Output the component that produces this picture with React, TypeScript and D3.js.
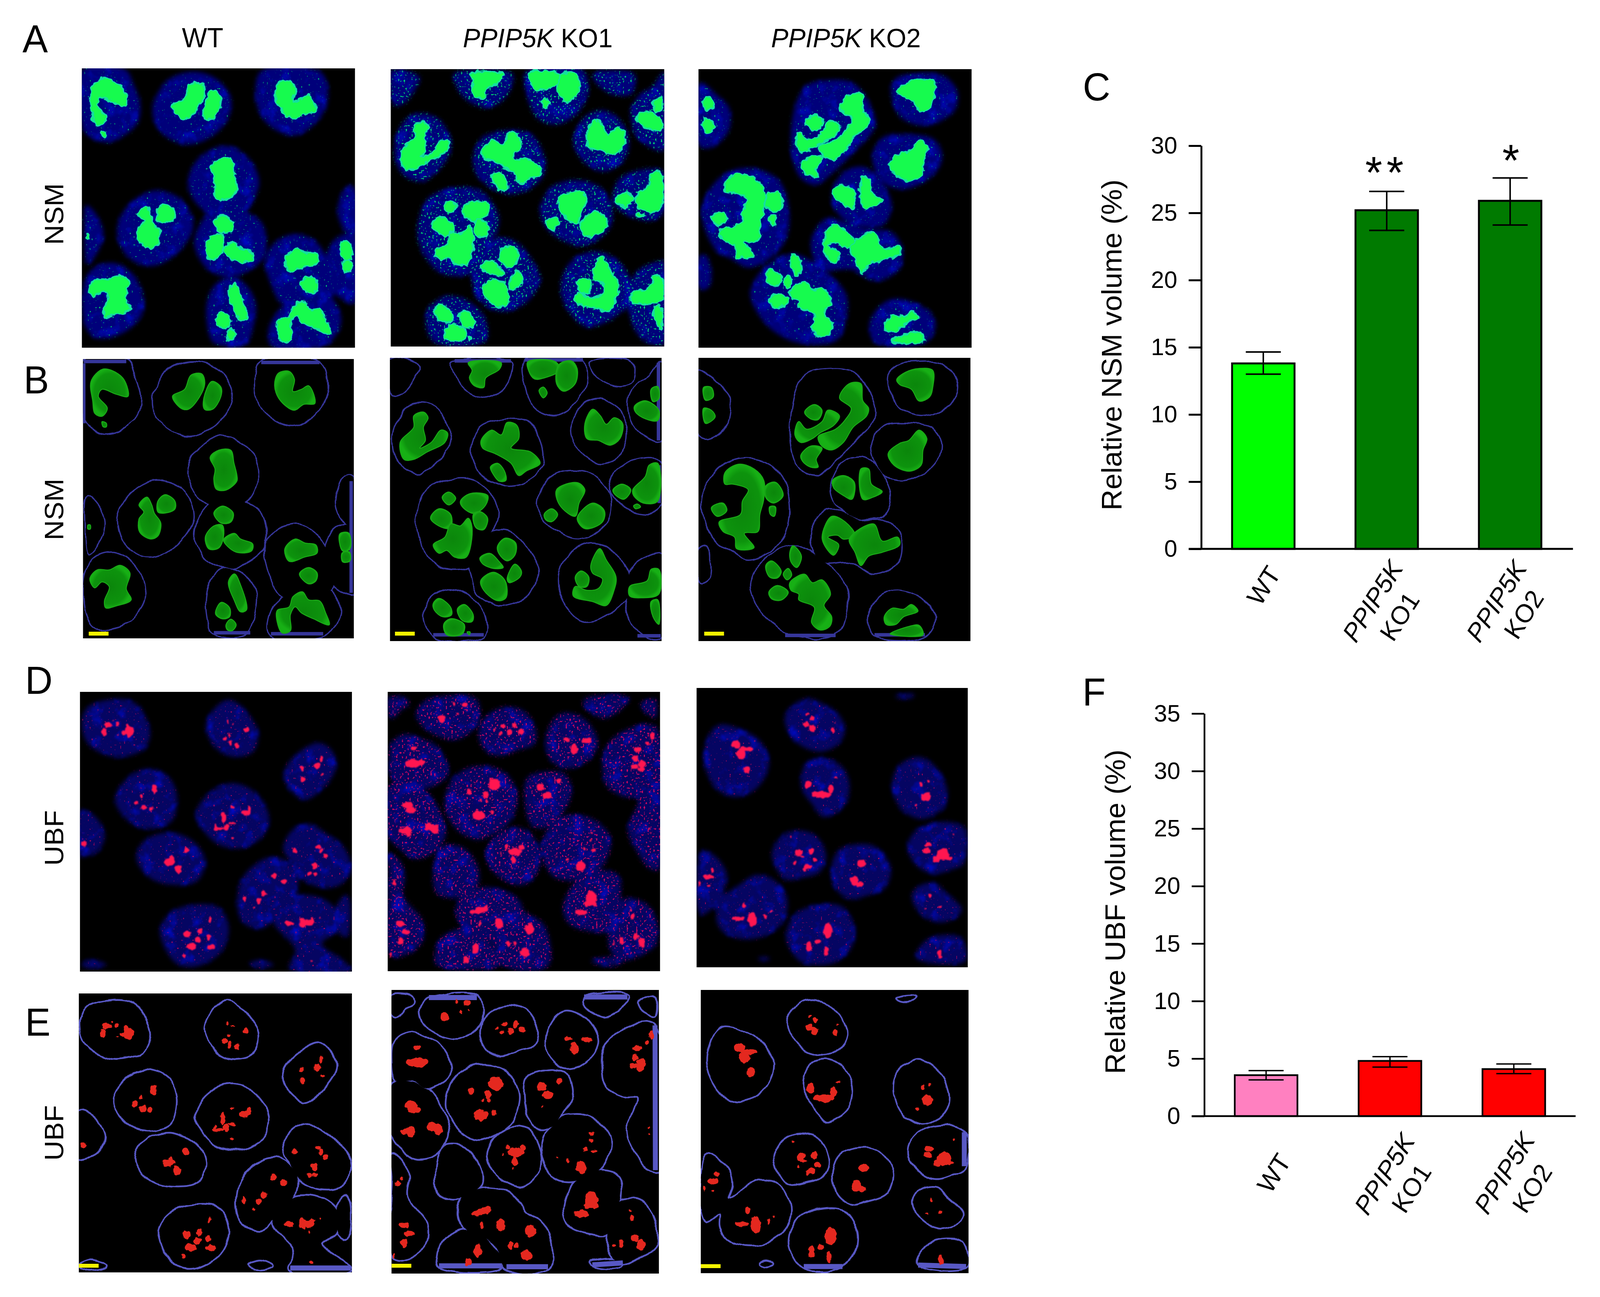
import * as React from "react";
import * as d3 from "d3";

// bar charts
const groups = ["WT", "KO1", "KO2"];
const nsmMeans = [13.8, 25.2, 25.9];
const nsmLow = [13.0, 23.7, 24.1];
const nsmHigh = [14.65, 26.6, 27.6];
const ubfMeans = [3.56, 4.8, 4.09];
const ubfLow = [3.15, 4.26, 3.69];
const ubfHigh = [3.96, 5.17, 4.53];
const nsmTicks = [0, 5, 10, 15, 20, 25, 30];
const ubfTicks = [0, 5, 10, 15, 20, 25, 30, 35];
const columnTitles = ["WT", "PPIP5K KO1", "PPIP5K KO2"];

const nsmWtNuclei = [
  [345,45,520,45,550,110,580,220,570,310,520,370,450,410,380,385,350,350],
  [640,190,700,90,800,55,890,90,945,170,950,250,910,340,840,400,770,420,690,385,640,310,630,250],
  [1075,50,1315,55,1345,140,1335,240,1280,330,1210,375,1130,345,1075,280,1050,170],
  [775,600,810,500,900,430,960,435,1030,500,1065,600,1050,680,1015,750,930,790,850,760,790,680],
  [800,900,855,770,930,745,1015,760,1075,810,1095,900,1085,985,1020,1055,940,1085,860,1050,815,975],
  [360,725,395,760,430,860,410,950,365,1020,352,870],
  [485,850,520,740,590,670,650,650,730,680,785,760,795,840,750,940,660,1020,590,1025,520,970],
  [355,1100,400,1030,480,1015,550,1070,590,1170,590,1260,540,1340,450,1390,385,1380,350,1300],
  [850,1230,880,1130,930,1090,1000,1110,1050,1210,1045,1310,1010,1420,900,1425,870,1400],
  [1090,1000,1130,910,1210,868,1290,900,1340,985,1375,1150,1360,1190,1295,1220,1165,1225,1110,1110],
  [1105,1340,1165,1225,1240,1190,1360,1190,1400,1300,1370,1390,1330,1430,1115,1430],
  [1340,975,1380,890,1456,870,1456,1215,1410,1200,1365,1150],
  [1385,740,1410,650,1435,625,1456,640,1456,870,1420,860,1390,790],
];
const nsmWtBlobs = [
  [375,150,420,90,460,95,510,140,527,225,480,215,420,190,405,225,442,285,420,325,390,310,382,250],
  [420,352,438,360,438,378,425,378],
  [710,225,760,190,785,120,830,112,843,160,815,240,775,290,745,285],
  [838,240,872,150,910,180,908,230,875,290,842,290],
  [1130,170,1145,110,1190,100,1212,140,1205,200,1240,190,1270,172,1295,230,1295,262,1250,265,1210,295,1150,240],
  [865,530,900,495,950,495,963,560,975,620,975,650,930,695,890,690,880,640,885,590],
  [880,810,915,775,960,810,950,855,910,860],
  [845,930,880,875,915,870,920,930,900,985,860,990],
  [920,945,965,912,990,940,1040,965,1035,1000,970,1005],
  [572,770,605,730,625,770,635,810,662,860,650,925,620,940,575,905,572,840,592,805],
  [650,750,680,718,720,750,720,790,680,810,650,805],
  [370,1140,400,1095,450,1095,495,1072,535,1110,520,1190,540,1245,480,1275,435,1285,430,1250,450,1180,420,1155,390,1185],
  [940,1155,965,1115,990,1170,1015,1295,990,1305,965,1250],
  [887,1315,910,1258,945,1285,945,1330,915,1340],
  [930,1370,950,1342,972,1370,955,1400,935,1395],
  [1172,990,1215,940,1255,960,1300,970,1305,1010,1255,1030,1190,1052],
  [1232,1115,1270,1083,1305,1110,1300,1150,1270,1165],
  [1140,1300,1190,1280,1205,1230,1245,1205,1270,1245,1315,1250,1340,1310,1355,1370,1290,1340,1240,1310,1215,1280,1195,1320,1195,1400,1160,1410],
  [1398,915,1435,910,1440,990,1410,1000],
  [1408,1010,1438,1005,1440,1050,1410,1055],
  [362,870,372,870,372,890,362,890],
];
const nsmWtRims = [
  [345,50,520,50],[345,60,345,360],[1075,55,1315,55],[880,1410,1030,1410],[1115,1415,1330,1415],[1445,650,1445,1210],
];

const nsmKo1Nuclei = [
  [25,45,60,40,98,80,90,130,60,215,35,232,25,180],
  [185,60,240,40,335,60,330,140,305,210,265,242,215,195,190,120],
  [370,50,515,40,525,180,490,290,445,332,400,300,372,180],
  [540,60,600,40,645,60,640,165,590,170,545,100],
  [637,260,660,170,690,132,722,50,722,470,690,460,650,390],
  [35,430,60,310,100,272,150,310,178,430,170,510,130,610,100,640,60,610,38,540],
  [235,500,260,400,340,362,385,390,415,500,415,600,385,670,330,708,270,660,240,590],
  [490,420,520,290,565,255,605,300,632,420,620,520,570,585,520,540],
  [590,720,610,620,690,570,722,590,722,800,690,850,640,830,600,780],
  [405,800,430,680,485,632,550,660,587,760,585,880,540,970,500,985,430,910],
  [92,920,120,730,200,670,260,700,300,830,290,930,230,1130,160,1140,120,1070],
  [228,1080,290,950,340,960,400,1120,405,1180,370,1290,310,1340,250,1280,232,1180],
  [458,1200,480,1080,540,1015,600,1060,640,1190,630,1300,570,1400,520,1420,470,1310],
  [632,1260,650,1130,710,1068,722,1070,722,1510,680,1505,645,1430],
  [113,1370,135,1290,180,1255,240,1310,268,1400,265,1500,135,1505],
];
const nsmKo1Blobs = [
  [50,480,85,400,85,340,110,320,122,350,110,400,115,470,100,510,130,480,155,415,172,430,165,480,120,530,85,570,60,570],
  [225,60,310,60,305,95,270,140,265,190,240,180,228,140,235,100],
  [378,55,450,55,460,100,420,140,395,145,380,100],
  [458,70,490,50,505,90,500,170,470,210,452,170],
  [407,205,418,188,428,220,418,245],
  [695,200,712,185,715,250,700,265],
  [652,290,680,260,715,310,712,365,680,355,655,320],
  [258,470,285,415,310,440,325,375,350,390,355,460,335,510,385,530,410,590,375,630,355,655,335,590,295,540,262,510],
  [282,610,300,590,318,630,322,680,305,685,290,650],
  [525,380,545,305,565,340,580,385,600,350,622,380,615,460,590,495,560,470,530,460],
  [597,730,620,700,643,730,625,780,600,750],
  [648,730,680,660,690,600,712,590,712,790,675,800,650,760],
  [650,815,660,805,668,820,655,830],
  [452,730,505,692,525,730,510,800,500,870,460,810],
  [505,880,545,800,575,840,570,900,525,935],
  [420,860,440,830,455,860,440,898,425,890],
  [158,770,175,742,193,775,175,810],
  [205,790,230,750,275,760,270,810,240,855,210,820],
  [128,880,150,830,180,860,180,930,160,930],
  [238,860,255,845,275,880,265,940,245,930],
  [135,1020,165,980,180,910,205,920,225,880,235,930,220,1085,190,1085,170,1050,150,1065],
  [300,1030,320,985,347,1010,345,1075,325,1105,305,1070],
  [255,1090,280,1065,305,1110,315,1140,290,1145,262,1120],
  [325,1200,345,1122,362,1160,358,1190,330,1220],
  [257,1210,290,1165,320,1210,322,1300,300,1315,265,1260],
  [500,1190,515,1158,535,1190,530,1240,510,1240],
  [540,1130,563,1040,580,1100,605,1190,600,1260,580,1340,545,1320,495,1290,500,1240,530,1260,560,1250,570,1200,545,1170],
  [640,1240,685,1210,695,1150,715,1150,715,1280,670,1300,640,1290],
  [695,1320,712,1310,715,1440,700,1400],
  [135,1330,150,1303,180,1350,182,1390,160,1400,138,1365],
  [197,1360,215,1335,238,1390,235,1425,210,1420],
  [162,1440,180,1410,215,1440,210,1490,170,1495],
  [222,1480,230,1480,228,1495],
];
const nsmKo1Rims = [
  [190,50,335,50],[370,45,520,45],[135,1495,265,1495],[714,60,714,470],[716,600,716,800],[660,1500,720,1500],
];

const nsmKo2Nuclei = [
  [1310,150,1325,80,1380,58,1445,70,1480,150,1475,250,1430,320,1390,338,1335,290],
  [1055,480,1065,230,1095,120,1150,92,1215,110,1260,240,1270,340,1220,470,1150,610,1120,655,1080,620],
  [817,110,830,110,860,165,895,240,897,350,870,430,835,460,817,440],
  [1262,500,1290,400,1340,383,1420,410,1442,500,1420,600,1345,678,1290,640],
  [1160,690,1190,585,1240,558,1280,620,1312,760,1290,870,1210,865,1165,780],
  [825,800,860,640,915,570,985,580,1030,650,1050,820,1040,950,1000,1050,945,1098,900,1050,860,1000],
  [1105,960,1145,835,1200,860,1250,895,1310,905,1340,1000,1330,1110,1270,1170,1210,1110,1130,1105],
  [950,1230,985,1100,1055,1025,1120,1080,1195,1240,1195,1380,1170,1490,1080,1505,1010,1440,965,1330],
  [1255,1400,1290,1290,1330,1265,1400,1320,1425,1400,1400,1500,1270,1500],
  [817,1040,835,1030,850,1120,845,1200,825,1220,817,1200],
];
const nsmKo2Blobs = [
  [1327,150,1350,110,1385,90,1420,100,1420,190,1412,240,1385,262,1365,200,1335,175],
  [830,190,850,190,855,240,835,258],
  [830,300,850,310,860,345,835,380],
  [1090,320,1115,280,1135,310,1125,360,1105,355],
  [1065,440,1075,370,1095,410,1135,370,1150,310,1180,340,1165,390,1130,430,1110,460,1080,480],
  [1180,245,1205,170,1235,170,1240,260,1255,300,1250,340,1215,400,1190,480,1160,520,1135,500,1125,450,1170,410,1195,360,1210,300],
  [1080,550,1105,500,1135,510,1120,570,1125,610,1105,610,1085,580],
  [1358,470,1385,415,1405,460,1395,520,1390,600,1360,632,1320,600,1305,540,1335,485],
  [1162,680,1190,655,1218,690,1212,780,1190,760,1165,720],
  [1235,620,1255,620,1262,700,1290,740,1265,770,1240,780],
  [885,640,920,595,960,620,985,680,985,780,975,860,970,950,935,960,960,1035,915,1040,910,980,880,950,870,900,925,860,930,790,945,730,905,700,885,700],
  [990,710,1015,690,1035,760,1010,800,990,770],
  [1000,820,1015,820,1012,870,1002,860],
  [850,825,880,800,890,840,865,870],
  [1135,980,1160,870,1195,900,1220,970,1190,990,1175,970,1150,980,1178,1020,1165,1075,1150,1050],
  [1205,990,1268,910,1290,1000,1330,980,1335,1020,1290,1060,1255,1080,1235,1130,1220,1060],
  [1052,1060,1060,1025,1082,1080,1070,1140,1055,1110],
  [990,1130,1005,1105,1030,1160,1020,1195,1000,1190],
  [1035,1175,1048,1145,1057,1180,1045,1205],
  [998,1270,1020,1235,1048,1270,1030,1312,1005,1305],
  [1052,1220,1090,1175,1110,1220,1135,1205,1157,1280,1140,1340,1160,1400,1155,1450,1130,1470,1108,1430,1115,1350,1075,1310,1075,1280,1055,1260],
  [1295,1400,1315,1355,1345,1360,1365,1335,1382,1370,1345,1400,1325,1440,1300,1440],
  [1310,1490,1360,1450,1385,1445,1395,1495],
];
const nsmKo2Rims = [[1040,1498,1170,1498],[1270,1495,1400,1495]];

const ubfWtNuclei = [
  [335,210,370,150,510,122,570,160,615,290,590,370,500,410,420,395,350,330],
  [845,260,880,170,935,125,985,150,1050,250,1062,300,1040,385,960,410,890,370],
  [1167,500,1200,420,1305,340,1360,370,1385,450,1350,540,1255,625,1190,570],
  [470,630,510,530,600,470,690,510,725,600,705,730,620,770,540,745],
  [805,690,860,590,950,542,1040,580,1105,700,1085,800,1000,865,900,850,830,770],
  [325,680,380,700,428,800,400,880,340,910,325,910],
  [558,920,590,830,700,788,800,840,842,930,810,1030,720,1050,620,1020],
  [1165,870,1200,780,1270,745,1350,800,1420,870,1445,970,1400,1050,1310,1060,1225,1005,1190,925],
  [975,1150,1000,1010,1100,915,1170,925,1225,1010,1215,1100,1125,1230,1070,1270,1000,1240],
  [655,1280,700,1190,790,1150,900,1165,940,1270,905,1390,800,1460,720,1440],
  [1125,1230,1215,1110,1320,1115,1385,1180,1385,1280,1325,1345,1415,1430,1445,1475,1190,1470,1215,1375],
  [1025,1445,1070,1425,1125,1450,1070,1468],
  [330,1450,370,1425,435,1450,370,1470],
  [1385,1160,1425,1100,1440,1130,1430,1310,1395,1290],
];
const ubfWtSpots = [
  [440,250,20,15],[425,285,13,22],[480,245,8,10],[462,228,4,5],[530,285,22,30],[520,265,8,25],[482,303,5,4],[505,290,10,12],
  [935,235,6,12],[958,248,5,5],[1013,273,12,15],[943,298,6,8],[925,322,12,12],[945,340,8,18],[975,352,10,17],
  [1322,420,7,18],[1305,455,14,20],[1242,466,8,16],[1245,522,11,18],[1327,498,6,6],
  [632,570,13,28],[580,607,7,10],[555,640,12,15],[588,663,16,17],[618,670,12,13],
  [918,712,10,30],[1010,690,24,17],[1025,675,10,20],[955,662,8,7],[955,740,18,8],[930,760,14,20],[900,770,25,8],[885,755,6,15],[955,818,6,8],
  [343,845,14,15],
  [765,878,14,20],[695,935,28,20],[705,920,10,18],[730,972,18,22],
  [1213,877,11,15],[1310,860,12,12],[1322,880,9,14],[1340,905,10,12],[1295,955,15,18],[1275,995,12,12],[1298,995,10,10],
  [1127,1007,13,17],[1167,1035,15,16],[1085,1095,14,18],[1065,1130,14,18],[1005,1120,9,20],[1044,1165,6,6],
  [861,1222,8,18],[768,1295,18,20],[822,1283,10,18],[813,1325,14,17],[785,1358,24,20],[858,1315,9,18],[868,1362,20,17],[755,1405,9,12],
  [1190,1242,20,14],[1245,1240,16,28],[1270,1240,25,17],[1285,1230,10,20],[1318,1216,4,5],[1274,1282,4,7],[1282,1432,6,7],
];
const ubfWtRims = [[1195,1462,1445,1462]];

const ubfKo1Nuclei = [
  [190,140,240,75,500,60,530,130,510,210,420,280,330,275,240,230,205,190],
  [520,260,550,170,650,112,760,130,825,230,815,310,730,340,630,372,555,340],
  [875,310,910,190,980,140,1090,180,1155,300,1110,390,990,440,910,400],
  [1075,90,1095,60,1320,60,1280,120,1190,170,1120,140],
  [38,60,140,65,150,100,110,125,65,170,38,130],
  [1380,95,1460,68,1460,170],
  [1180,450,1190,340,1280,245,1460,215,1480,980,1430,975,1360,880,1315,770,1370,600,1290,590,1200,530],
  [45,400,60,300,130,255,235,285,300,320,355,420,345,490,240,545,150,510,70,510],
  [38,540,90,510,230,550,330,700,345,800,310,860,250,910,170,920,90,860,38,800],
  [340,640,380,500,480,432,620,440,695,500,728,600,690,720,600,790,510,820,400,760],
  [765,600,780,490,880,455,980,470,1015,570,950,700,860,760,800,740],
  [560,900,600,810,700,755,790,780,840,870,840,980,770,1060,680,1050,590,980],
  [855,880,890,760,960,700,1090,695,1200,770,1225,840,1165,980,1050,1035,920,1020],
  [280,1000,320,860,430,860,510,950,525,1040,510,1070,420,1130,300,1110],
  [970,1180,1040,1040,1150,985,1260,1010,1275,1130,1220,1310,1100,1310,1000,1270],
  [1210,1330,1270,1150,1360,1140,1450,1210,1465,1380,1380,1440,1280,1470,1225,1420],
  [400,1220,430,1120,510,1080,630,1085,740,1150,760,1200,870,1280,890,1500,660,1500,590,1370,440,1290],
  [290,1430,320,1350,440,1295,560,1350,635,1490,295,1490],
  [45,1010,40,895,100,930,130,1020,120,1120,225,1260,220,1370,130,1440,50,1440],
  [1120,1470,1200,1450,1290,1460,1270,1490,1150,1490],
];
const ubfKo1Spots = [
  [445,96,20,14],[390,92,9,10],[413,145,8,8],[325,170,22,25],[457,132,4,4],
  [650,212,18,12],[685,245,15,22],[710,210,15,18],[745,240,18,18],[605,230,8,9],[638,252,12,10],
  [990,285,22,14],[1095,290,30,18],[1028,335,22,30],
  [1445,265,16,24],[1417,306,12,12],[1368,337,25,16],[1355,385,18,20],[1390,415,25,25],[1350,430,25,15],[1385,445,20,15],
  [175,332,20,12],[175,410,55,25],[210,408,28,18],
  [145,635,35,20],[160,660,35,20],[130,775,42,18],[145,775,22,32],[255,745,22,22],[270,755,42,22],[290,772,25,20],
  [470,563,17,20],[605,525,40,35],[600,500,30,12],[560,580,18,22],[565,612,10,12],[530,612,7,9],[520,690,38,30],[593,677,11,15],
  [850,540,25,24],[885,582,30,22],[947,507,15,17],[850,646,4,4],
  [670,858,12,15],[715,885,45,25],[750,860,15,15],[705,930,16,25],[640,895,5,7],[700,972,5,5],
  [1120,785,15,8],[1115,823,11,8],[1087,868,10,12],[1132,880,16,7],[1065,965,28,35],[935,912,5,5],[993,927,8,12],
  [1120,1135,35,45],[1095,1165,15,20],[1065,1210,38,20],[1140,1170,15,15],
  [1333,1193,7,7],[1340,1233,12,17],[1357,1340,20,22],[1388,1375,22,30],[1281,1365,12,25],[1242,1380,9,9],
  [500,1208,30,14],[530,1195,30,18],[560,1190,16,20],[527,1270,9,17],[630,1270,25,33],[790,1300,30,32],[680,1378,14,18],[713,1378,13,12],[768,1428,30,28],
  [505,1405,20,35],[453,1465,20,22],
  [105,1272,27,18],[135,1315,28,15],[105,1365,17,25],[92,1025,9,9],[72,1052,14,14],[52,1437,6,15],
  [1430,760,6,6],[1435,785,5,5],
];
const ubfKo1Rims = [
  [1464,215,1466,980],[295,1485,635,1485],[660,1490,885,1490],[1080,65,1315,65],[240,68,500,68],[1125,1480,1290,1470],
];

const ubfKo2Nuclei = [
  [535,180,590,110,665,85,760,125,830,180,855,260,820,330,725,370,610,330,550,260],
  [100,420,130,280,185,225,300,250,400,310,450,420,420,520,350,590,260,612,170,570],
  [620,510,650,430,735,402,840,450,880,550,850,660,740,720,680,650,630,580],
  [1108,560,1140,450,1240,397,1320,430,1400,560,1390,660,1320,715,1260,730,1160,680],
  [1190,880,1240,790,1380,745,1495,780,1490,970,1430,1000,1330,1025,1240,980],
  [465,910,520,820,600,792,700,820,755,930,720,1015,630,1045,540,1055,480,980],
  [782,1010,820,900,920,865,1020,880,1100,990,1070,1100,960,1145,890,1160,810,1110],
  [65,1000,90,900,150,920,215,1000,225,1060,205,1130,280,1090,380,1030,480,1060,545,1150,530,1270,440,1350,320,1375,210,1340,170,1280,165,1205,90,1245,65,1200],
  [1215,1130,1260,1085,1340,1075,1400,1130,1480,1210,1460,1250,1370,1285,1290,1260,1225,1190],
  [540,1360,590,1240,720,1190,840,1200,905,1310,890,1420,800,1500,630,1500,570,1440],
  [1235,1470,1290,1380,1400,1350,1480,1370,1500,1490,1300,1500],
  [1125,72,1170,60,1225,62,1220,78,1150,85],
  [390,1480,425,1468,455,1480,420,1492],
];
const ubfKo2Spots = [
  [655,168,10,8],[682,190,12,14],[650,225,20,18],[680,245,20,22],[802,210,5,5],[790,255,12,18],
  [272,332,28,24],[325,355,45,14],[300,385,30,28],[332,465,22,25],
  [657,547,20,26],[730,600,60,20],[780,570,18,28],[807,512,9,7],
  [1265,543,10,14],[1304,530,9,8],[1290,610,30,28],[1237,656,7,7],
  [1300,868,22,15],[1293,900,25,16],[1380,920,40,35],[1345,945,22,18],[1410,942,25,10],[1435,815,5,6],
  [565,828,6,6],[605,910,22,22],[620,932,22,6],[677,902,18,20],[695,952,15,15],[655,985,25,16],[588,965,8,9],[640,1000,10,12],
  [945,968,30,22],[905,1062,25,32],[935,1082,22,18],
  [148,1003,12,14],[125,1040,32,16],[126,1088,10,7],[80,1078,8,15],
  [315,1193,12,18],[360,1268,28,45],[285,1265,38,14],[430,1254,7,17],[459,1226,5,7],
  [765,1330,30,45],[762,1300,14,20],[712,1387,18,14],[662,1415,18,32],[755,1438,16,30],
  [1310,1140,8,14],[1285,1208,8,5],[1363,1201,9,8],
  [1362,1455,14,28],
];
const ubfKo2Rims = [[620,1490,830,1490],[1240,1482,1500,1490],[1490,780,1490,960]];

const FONT = '"Liberation Sans", Arial, sans-serif';

type Field = {
  frameX: number[];
  frameY: number[];
  nuclei: number[][];
  blobs?: number[][];
  spots?: number[][];
  rims: number[][];
};

const nsmWt: Field = { frameX: [342, 1456], frameY: [38, 1438], nuclei: nsmWtNuclei, blobs: nsmWtBlobs, rims: nsmWtRims };
const nsmKo1: Field = { frameX: [24, 722], frameY: [34, 1528], nuclei: nsmKo1Nuclei, blobs: nsmKo1Blobs, rims: nsmKo1Rims };
const nsmKo2: Field = { frameX: [817, 1517], frameY: [34, 1528], nuclei: nsmKo2Nuclei, blobs: nsmKo2Blobs, rims: nsmKo2Rims };
const ubfWt: Field = { frameX: [325, 1449], frameY: [85, 1484], nuclei: ubfWtNuclei, spots: ubfWtSpots, rims: ubfWtRims };
const ubfKo1: Field = { frameX: [38, 1485], frameY: [28, 1526], nuclei: ubfKo1Nuclei, spots: ubfKo1Spots, rims: ubfKo1Rims };
const ubfKo2: Field = { frameX: [62, 1513], frameY: [28, 1525], nuclei: ubfKo2Nuclei, spots: ubfKo2Spots, rims: ubfKo2Rims };

// x0, x1, y0, y1 of each picture, plus where its scale bar starts
const panels: { box: number[]; field: Field; mode: string; speck?: string; bar?: number[] }[] = [
  { box: [215, 932, 175, 890], field: nsmWt, mode: "confocal", speck: "nucA" },
  { box: [1026, 1744, 177, 887], field: nsmKo1, mode: "confocal", speck: "nucAko" },
  { box: [1834, 2551, 177, 890], field: nsmKo2, mode: "confocal", speck: "nucA" },
  { box: [218, 929, 919, 1634], field: nsmWt, mode: "render", bar: [233, 1617] },
  { box: [1024, 1737, 916, 1641], field: nsmKo1, mode: "render", bar: [1037, 1617] },
  { box: [1834, 2548, 916, 1641], field: nsmKo2, mode: "render", bar: [1849, 1617] },
  { box: [210, 924, 1771, 2487], field: ubfWt, mode: "confocal", speck: "nucD" },
  { box: [1018, 1733, 1771, 2486], field: ubfKo1, mode: "confocal", speck: "nucDko" },
  { box: [1829, 2541, 1761, 2476], field: ubfKo2, mode: "confocal", speck: "nucD" },
  { box: [207, 924, 2543, 3257], field: ubfWt, mode: "render", bar: [207, 3235] },
  { box: [1028, 1730, 2534, 3260], field: ubfKo1, mode: "render", bar: [1028, 3235] },
  { box: [1840, 2543, 2534, 3259], field: ubfKo2, mode: "render", bar: [1840, 3236] },
];

function toPoints(flat: number[]) {
  const pts: [number, number][] = [];
  for (let i = 0; i < flat.length; i += 2) pts.push([flat[i], flat[i + 1]]);
  return pts;
}

function addNucleusFilter(defs: any, id: string, rgb: number[], c: number) {
  const f = defs.append("filter").attr("id", id).attr("color-interpolation-filters", "sRGB");
  f.append("feGaussianBlur").attr("in", "SourceGraphic").attr("stdDeviation", 6).attr("result", "base");
  f.append("feTurbulence").attr("type", "fractalNoise").attr("baseFrequency", 0.03).attr("numOctaves", 3).attr("seed", 4).attr("result", "t");
  f.append("feColorMatrix").attr("in", "t").attr("values", "0 0 0 0 0 0 0 0 0 0.04 0 0 0 0 0.75 2.4 0 0 0 -1.2").attr("result", "blot");
  f.append("feComposite").attr("in", "blot").attr("in2", "base").attr("operator", "in").attr("result", "blotIn");
  f.append("feTurbulence").attr("type", "fractalNoise").attr("baseFrequency", 0.2).attr("numOctaves", 1).attr("seed", 9).attr("result", "s");
  f.append("feColorMatrix").attr("in", "s")
    .attr("values", `0 0 0 0 ${rgb[0]} 0 0 0 0 ${rgb[1]} 0 0 0 0 ${rgb[2]} 12 0 0 0 ${c}`).attr("result", "sp");
  f.append("feComposite").attr("in", "sp").attr("in2", "base").attr("operator", "in").attr("result", "spIn");
  const m = f.append("feMerge");
  m.append("feMergeNode").attr("in", "base");
  m.append("feMergeNode").attr("in", "blotIn");
  m.append("feMergeNode").attr("in", "spIn");
}

function addRoughFilter(defs: any, id: string, freq: number, scale: number, blur: number) {
  const f = defs.append("filter").attr("id", id).attr("color-interpolation-filters", "sRGB");
  f.append("feTurbulence").attr("type", "fractalNoise").attr("baseFrequency", freq).attr("numOctaves", 2).attr("seed", 3).attr("result", "n");
  f.append("feDisplacementMap").attr("in", "SourceGraphic").attr("in2", "n").attr("scale", scale)
    .attr("xChannelSelector", "R").attr("yChannelSelector", "G").attr("result", "d");
  if (blur > 0) f.append("feGaussianBlur").attr("in", "d").attr("stdDeviation", blur);
}

function drawPanel(svg: any, p: (typeof panels)[number], i: number) {
  const [x0, x1, y0, y1] = p.box;
  const fx = d3.scaleLinear().domain(p.field.frameX).range([x0, x1]);
  const fy = d3.scaleLinear().domain(p.field.frameY).range([y0, y1]);
  const outline = d3
    .line<[number, number]>()
    .x((d) => fx(d[0]))
    .y((d) => fy(d[1]))
    .curve(d3.curveCatmullRomClosed.alpha(0.5));

  const clipId = `clip${i}`;
  svg.select("defs").append("clipPath").attr("id", clipId)
    .append("rect").attr("x", x0).attr("y", y0).attr("width", x1 - x0).attr("height", y1 - y0);
  svg.append("rect").attr("x", x0).attr("y", y0).attr("width", x1 - x0).attr("height", y1 - y0).attr("fill", "#000");

  const g = svg.append("g").attr("clip-path", `url(#${clipId})`);
  const nuclei = p.field.nuclei.map(toPoints);
  const blobs = (p.field.blobs || []).map(toPoints);
  const spots = p.field.spots || [];
  const isNsm = blobs.length > 0;

  if (p.mode === "confocal") {
    g.append("g").attr("filter", `url(#${p.speck})`)
      .selectAll("path").data(nuclei).join("path")
      .attr("d", (d: any) => outline(d))
      .attr("fill", isNsm ? "#00007a" : "#050562");
    if (isNsm) {
      g.append("g").attr("filter", "url(#blobRough)")
        .selectAll("path").data(blobs).join("path")
        .attr("d", (d: any) => outline(d))
        .attr("fill", "#16fb4e")
        .attr("stroke", "#14e0a0")
        .attr("stroke-width", 4);
    }
    g.append("g").attr("filter", "url(#spotSoft)")
      .selectAll("ellipse").data(spots).join("ellipse")
      .attr("cx", (d: number[]) => fx(d[0]))
      .attr("cy", (d: number[]) => fy(d[1]))
      .attr("rx", (d: number[]) => Math.abs(fx(d[2]) - fx(0)) * 0.85)
      .attr("ry", (d: number[]) => Math.abs(fy(d[3]) - fy(0)) * 0.85)
      .attr("fill", "#ff1650");
  } else {
    // stroke everything, then black fill on top, so only the outer outline of touching nuclei stays
    const rimColor = isNsm ? "#36369a" : "#5858c4";
    const wobble = g.append("g").attr("filter", "url(#wobble)");
    wobble.append("g").selectAll("path").data(nuclei).join("path")
      .attr("d", (d: any) => outline(d))
      .attr("fill", "none").attr("stroke", rimColor).attr("stroke-width", isNsm ? 7 : 9);
    wobble.append("g").selectAll("path").data(nuclei).join("path")
      .attr("d", (d: any) => outline(d))
      .attr("fill", "#000");
    g.append("g").selectAll("line").data(p.field.rims).join("line")
      .attr("x1", (d: number[]) => fx(d[0]))
      .attr("y1", (d: number[]) => fy(d[1]))
      .attr("x2", (d: number[]) => fx(d[2]))
      .attr("y2", (d: number[]) => fy(d[3]))
      .attr("stroke", rimColor).attr("stroke-width", isNsm ? 9 : 13);
    g.append("g").selectAll("path").data(blobs).join("path")
      .attr("d", (d: any) => outline(d))
      .attr("fill", "url(#greenBody)")
      .attr("stroke", "#1aa817")
      .attr("stroke-width", 2.5);
    g.append("g").attr("filter", "url(#spotRough)")
      .selectAll("ellipse").data(spots).join("ellipse")
      .attr("cx", (d: number[]) => fx(d[0]))
      .attr("cy", (d: number[]) => fy(d[1]))
      .attr("rx", (d: number[]) => Math.abs(fx(d[2]) - fx(0)))
      .attr("ry", (d: number[]) => Math.abs(fy(d[3]) - fy(0)))
      .attr("fill", "#e4281f");
  }

  if (p.bar) {
    g.append("rect").attr("x", p.bar[0]).attr("y", p.bar[1]).attr("width", 52).attr("height", 10).attr("fill", "#f4f400");
  }
}

function drawBars(
  svg: any,
  opts: {
    yRange: number[]; yMax: number; ticks: number[]; axisX: number; xEnd: number; bandRange: number[];
    means: number[]; low: number[]; high: number[]; fills: string[]; stroke: number; label: string; labelX: number; labelY: number;
  }
) {
  const y = d3.scaleLinear().domain([0, opts.yMax]).range(opts.yRange);
  const x = d3.scaleBand().domain(groups).range(opts.bandRange as [number, number]).paddingInner(0.494).paddingOuter(0);
  const g = svg.append("g");

  g.selectAll("rect").data(groups).join("rect")
    .attr("x", (d: string) => x(d))
    .attr("y", (_d: string, i: number) => y(opts.means[i]))
    .attr("width", x.bandwidth())
    .attr("height", (_d: string, i: number) => y(0) - y(opts.means[i]))
    .attr("fill", (_d: string, i: number) => opts.fills[i])
    .attr("stroke", "#000")
    .attr("stroke-width", opts.stroke);

  const err = g.append("g").attr("stroke", "#000").attr("stroke-width", opts.stroke - 1);
  groups.forEach((d, i) => {
    const cx = (x(d) as number) + x.bandwidth() / 2;
    err.append("line").attr("x1", cx).attr("x2", cx).attr("y1", y(opts.low[i])).attr("y2", y(opts.high[i]));
    err.append("line").attr("x1", cx - 46).attr("x2", cx + 46).attr("y1", y(opts.low[i])).attr("y2", y(opts.low[i]));
    err.append("line").attr("x1", cx - 46).attr("x2", cx + 46).attr("y1", y(opts.high[i])).attr("y2", y(opts.high[i]));
  });

  const axis = d3.axisLeft(y).tickValues(opts.ticks).tickSize(33).tickSizeOuter(0).tickPadding(30);
  const ax = g.append("g").attr("transform", `translate(${opts.axisX},0)`).call(axis);
  ax.selectAll("path,line").attr("stroke", "#000").attr("stroke-width", opts.stroke);
  ax.selectAll("text").attr("font-family", FONT).attr("font-size", 62).attr("fill", "#000");

  g.append("line").attr("x1", opts.axisX - 33).attr("x2", opts.xEnd).attr("y1", y(0)).attr("y2", y(0))
    .attr("stroke", "#000").attr("stroke-width", opts.stroke);

  g.append("text").attr("transform", `translate(${opts.labelX},${opts.labelY}) rotate(-90)`)
    .attr("text-anchor", "middle").attr("font-family", FONT).attr("font-size", 74).text(opts.label);
}

function rotatedLabel(svg: any, x: number, y: number, text: string, italic: boolean) {
  svg.append("text").attr("transform", `translate(${x},${y}) rotate(-57)`)
    .attr("text-anchor", "middle").attr("dominant-baseline", "central")
    .attr("font-family", FONT).attr("font-size", 66)
    .attr("font-style", italic ? "italic" : "normal").text(text);
}

export default function App() {
  const svgRef = React.useRef<SVGSVGElement>(null);

  React.useEffect(() => {
    const el = svgRef.current;
    if (!el) return;
    while (el.firstChild) el.removeChild(el.firstChild);
    const svg = d3.select(el);
    const defs = svg.append("defs");

    addNucleusFilter(defs, "nucA", [0, 0.75, 0.45], -8.2);
    addNucleusFilter(defs, "nucAko", [0, 0.8, 0.45], -7.4);
    addNucleusFilter(defs, "nucD", [0.75, 0.03, 0.35], -8.2);
    addNucleusFilter(defs, "nucDko", [0.8, 0.03, 0.38], -7.3);
    addRoughFilter(defs, "blobRough", 0.07, 14, 0);
    addRoughFilter(defs, "spotSoft", 0.09, 10, 1.4);
    addRoughFilter(defs, "spotRough", 0.08, 10, 0);
    addRoughFilter(defs, "wobble", 0.02, 14, 0);

    const body = defs.append("radialGradient").attr("id", "greenBody");
    body.append("stop").attr("offset", "0%").attr("stop-color", "#0b860b");
    body.append("stop").attr("offset", "80%").attr("stop-color", "#0d930d");
    body.append("stop").attr("offset", "100%").attr("stop-color", "#17b015");

    svg.append("rect").attr("width", 4201).attr("height", 3320).attr("fill", "#fff");
    panels.forEach((p, i) => drawPanel(svg, p, i));

    // panel letters
    const letters: [string, number, number][] = [
      ["A", 59, 134], ["B", 62, 1007], ["C", 2843, 257], ["D", 66, 1776], ["E", 66, 2651], ["F", 2842, 1806],
    ];
    svg.append("g").selectAll("text").data(letters).join("text")
      .attr("x", (d) => d[1]).attr("y", (d) => d[2])
      .attr("font-family", FONT).attr("font-size", 100).text((d) => d[0]);

    // column titles
    svg.append("text").attr("x", 532).attr("y", 121).attr("text-anchor", "middle")
      .attr("font-family", FONT).attr("font-size", 70).text(columnTitles[0]);
    [[1412, columnTitles[1]], [2221, columnTitles[2]]].forEach(([cx, t]) => {
      const [gene, clone] = String(t).split(" ");
      const title = svg.append("text").attr("x", cx as number).attr("y", 121).attr("text-anchor", "middle")
        .attr("font-family", FONT).attr("font-size", 68);
      title.append("tspan").attr("font-style", "italic").text(gene);
      title.append("tspan").text(" " + clone);
    });

    // row labels
    const rowLabels: [string, number][] = [["NSM", 548], ["NSM", 1304], ["UBF", 2145], ["UBF", 2900]];
    svg.append("g").selectAll("text").data(rowLabels).join("text")
      .attr("transform", (d) => `translate(166,${d[1]}) rotate(-90)`)
      .attr("text-anchor", "middle").attr("font-family", FONT).attr("font-size", 71).text((d) => d[0]);

    drawBars(svg, {
      yRange: [1405, 373], yMax: 30, ticks: nsmTicks, axisX: 3154, xEnd: 4130, bandRange: [3235, 4047],
      means: nsmMeans, low: nsmLow, high: nsmHigh, fills: ["#00ff00", "#007a00", "#007a00"], stroke: 5,
      label: "Relative NSM volume (%)", labelX: 2945, labelY: 883,
    });
    drawBars(svg, {
      yRange: [2857, 1826.5], yMax: 35, ticks: ubfTicks, axisX: 3162, xEnd: 4137, bandRange: [3242, 4057],
      means: ubfMeans, low: ubfLow, high: ubfHigh, fills: ["#ff80c0", "#ff0000", "#ff0000"], stroke: 4.5,
      label: "Relative UBF volume (%)", labelX: 2954, labelY: 2334,
    });

    // significance stars
    const stars: [number, number][] = [[3607, 481], [3663, 481], [3967, 450]];
    svg.append("g").selectAll("text").data(stars).join("text")
      .attr("x", (d) => d[0]).attr("y", (d) => d[1]).attr("text-anchor", "middle")
      .attr("font-family", FONT).attr("font-size", 115).text("*");

    // tick labels on the x axes
    rotatedLabel(svg, 3318, 1499, "WT", false);
    rotatedLabel(svg, 3604, 1539, "PPIP5K", true);
    rotatedLabel(svg, 3675, 1578, "KO1", false);
    rotatedLabel(svg, 3929, 1539, "PPIP5K", true);
    rotatedLabel(svg, 4001, 1573, "KO2", false);
    rotatedLabel(svg, 3345, 3003, "WT", false);
    rotatedLabel(svg, 3635, 3005, "PPIP5K", true);
    rotatedLabel(svg, 3706, 3042, "KO1", false);
    rotatedLabel(svg, 3950, 3003, "PPIP5K", true);
    rotatedLabel(svg, 4023, 3042, "KO2", false);
  }, []);

  return (
    <svg
      ref={svgRef}
      viewBox="0 0 4201 3320"
      preserveAspectRatio="none"
      style={{ position: "absolute", left: 0, top: 0, width: "100vw", height: "100vh", display: "block" }}
    />
  );
}
